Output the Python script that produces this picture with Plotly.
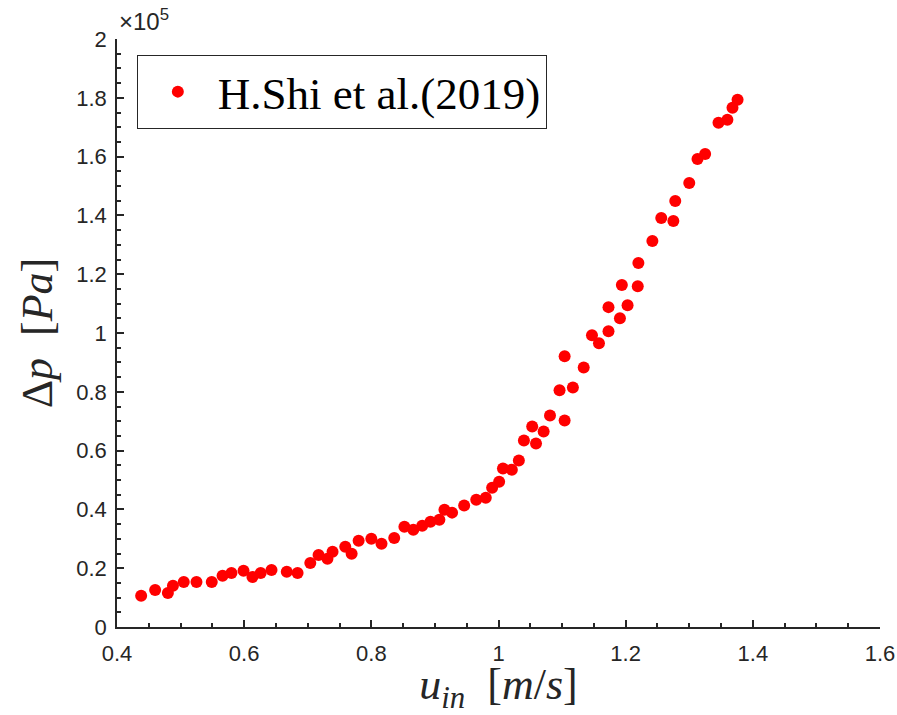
import plotly.graph_objects as go

u_in = [0.438, 0.460, 0.480, 0.488, 0.505, 0.525, 0.549, 0.566, 0.580, 0.599,
        0.613, 0.626, 0.643, 0.667, 0.684, 0.704, 0.717, 0.731, 0.739, 0.759,
        0.769, 0.780, 0.800, 0.816, 0.836, 0.852, 0.866, 0.880, 0.893, 0.907,
        0.915, 0.927, 0.946, 0.965, 0.980, 0.990, 1.001, 1.007, 1.021, 1.032,
        1.040, 1.053, 1.059, 1.071, 1.081, 1.104, 1.096, 1.117, 1.104, 1.134,
        1.147, 1.158, 1.173, 1.173, 1.191, 1.203, 1.194, 1.219, 1.220, 1.242,
        1.256, 1.275, 1.278, 1.300, 1.313, 1.325, 1.346, 1.360, 1.368, 1.376]
dp_1e5 = [0.106, 0.126, 0.116, 0.140, 0.153, 0.153, 0.153, 0.174, 0.184, 0.191,
          0.170, 0.184, 0.194, 0.188, 0.184, 0.218, 0.245, 0.232, 0.256, 0.273,
          0.249, 0.293, 0.300, 0.283, 0.303, 0.341, 0.331, 0.344, 0.358, 0.365,
          0.399, 0.389, 0.413, 0.433, 0.440, 0.474, 0.494, 0.539, 0.535, 0.566,
          0.634, 0.682, 0.624, 0.665, 0.719, 0.702, 0.805, 0.815, 0.921, 0.883,
          0.992, 0.965, 1.006, 1.088, 1.050, 1.094, 1.163, 1.159, 1.238, 1.313,
          1.391, 1.381, 1.449, 1.510, 1.592, 1.609, 1.715, 1.725, 1.766, 1.793]

x_ticks = [0.4, 0.6, 0.8, 1.0, 1.2, 1.4, 1.6]
x_ticktext = ["0.4", "0.6", "0.8", "1", "1.2", "1.4", "1.6"]
y_ticks = [0, 0.2, 0.4, 0.6, 0.8, 1.0, 1.2, 1.4, 1.6, 1.8, 2.0]
y_ticktext = ["0", "0.2", "0.4", "0.6", "0.8", "1", "1.2", "1.4", "1.6", "1.8", "2"]

axcol = "#262626"
serif = "Liberation Serif, DejaVu Serif, serif"
sans = "Liberation Sans, Arial, sans-serif"

fig = go.Figure()
fig.add_trace(go.Scatter(
    x=u_in, y=dp_1e5, mode="markers", name="H.Shi et al.(2019)",
    marker=dict(color="#ff0000", size=12, line=dict(width=0)),
))

fig.update_layout(
    width=897, height=715,
    margin=dict(l=117, r=17, t=39, b=88),
    paper_bgcolor="white", plot_bgcolor="white",
    showlegend=True,
    font=dict(family=sans, color=axcol),
    legend=dict(
        x=0.026, y=0.973, xanchor="left", yanchor="top",
        bgcolor="white", bordercolor=axcol, borderwidth=1,
        font=dict(family=serif, size=45, color="#000000"),
        itemsizing="constant", itemwidth=70,
    ),
    xaxis=dict(
        range=[0.4, 1.6], tickvals=x_ticks, ticktext=x_ticktext,
        automargin=False,
        showline=True, linecolor=axcol, linewidth=1.5,
        ticks="inside", ticklen=7, tickcolor=axcol, tickwidth=1.5,
        ticklabelstandoff=6,
        minor=dict(dtick=0.05, tick0=0.4, ticks="inside", ticklen=4, tickcolor=axcol, tickwidth=1.5),
        showgrid=False, zeroline=False,
        tickfont=dict(family=sans, size=22, color=axcol),
        title=dict(text="<i>u</i><sub><i>in</i></sub>  [<i>m</i>/<i>s</i>]",
                   font=dict(family=serif, size=44, color=axcol), standoff=22),
    ),
    yaxis=dict(
        range=[0, 2.0], tickvals=y_ticks, ticktext=y_ticktext,
        automargin=False,
        showline=True, linecolor=axcol, linewidth=1.5,
        ticks="inside", ticklen=7, tickcolor=axcol, tickwidth=1.5,
        ticklabelstandoff=4,
        minor=dict(dtick=0.05, tick0=0, ticks="inside", ticklen=4, tickcolor=axcol, tickwidth=1.5),
        showgrid=False, zeroline=False,
        tickfont=dict(family=sans, size=22, color=axcol),
        title=dict(text="Δ<i>p</i>  [<i>Pa</i>]",
                   font=dict(family=serif, size=44, color=axcol), standoff=10),
    ),
    annotations=[dict(
        text="×10<sup>5</sup>",
        x=0, y=1.0, xref="paper", yref="paper",
        xanchor="left", yanchor="bottom", showarrow=False, yshift=2, xshift=0,
        font=dict(family=sans, size=24, color=axcol),
    )],
)

fig.write_html("out.html")
